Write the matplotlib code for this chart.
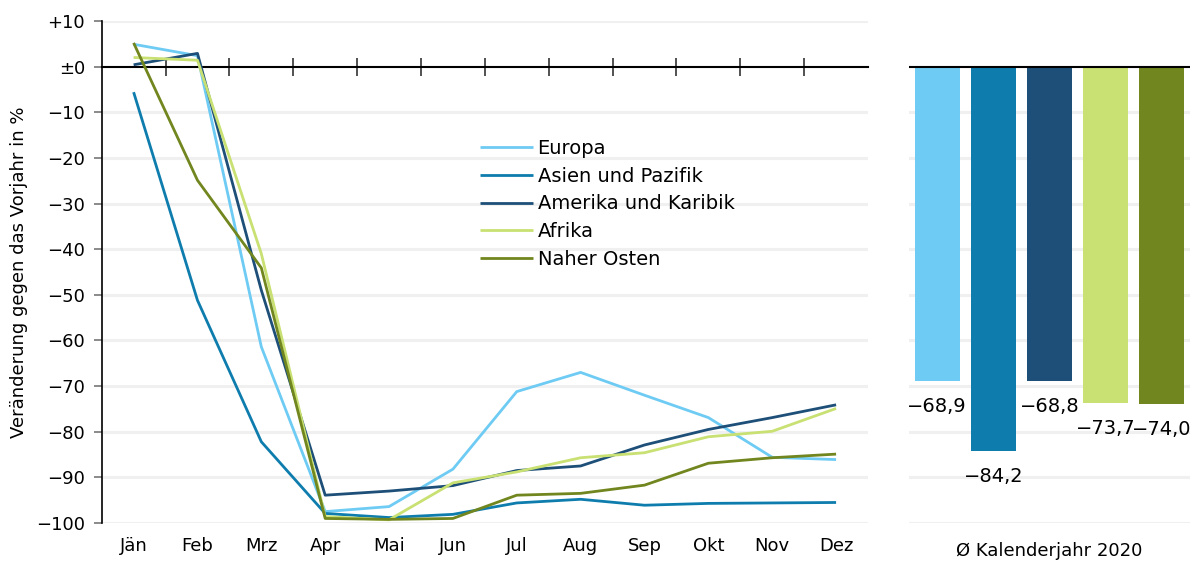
import matplotlib
matplotlib.use('Agg')
import matplotlib.pyplot as plt

plt.rcParams['font.family'] = ['DejaVu Sans']

# Monatswerte 2020, Veränderung gegen Vorjahr in %
monate = ['Jän', 'Feb', 'Mrz', 'Apr', 'Mai', 'Jun', 'Jul', 'Aug', 'Sep', 'Okt', 'Nov', 'Dez']
europa = [4.9, 2.4, -61.4, -97.5, -96.4, -88.2, -71.2, -67.0, -72.0, -76.9, -85.6, -86.1]
asien = [-5.6, -51.2, -82.2, -97.9, -98.8, -98.1, -95.6, -94.8, -96.1, -95.7, -95.6, -95.5]
amerika = [0.4, 2.9, -49.0, -93.9, -93.0, -91.8, -88.5, -87.5, -82.9, -79.5, -76.9, -74.1]
afrika = [2.0, 1.4, -41.0, -98.6, -99.3, -91.2, -88.8, -85.7, -84.6, -81.1, -79.9, -74.9]
naher_osten = [5.2, -24.9, -44.1, -99.0, -99.2, -99.0, -93.9, -93.5, -91.7, -86.9, -85.7, -84.9]

regionen = ['Europa', 'Asien und Pazifik', 'Amerika und Karibik', 'Afrika', 'Naher Osten']
farben = ['#6ECBF3', '#0E7DAD', '#1D4F78', '#C9E072', '#71861E']
jahr_2020 = [-68.9, -84.2, -68.8, -73.7, -74.0]

yticks = [10, 0, -10, -20, -30, -40, -50, -60, -70, -80, -90, -100]
ytick_labels = ['+10', '±0', '−10', '−20', '−30', '−40', '−50', '−60', '−70', '−80', '−90', '−100']

fig = plt.figure(figsize=(11.92, 5.61), dpi=100)
ax = fig.add_axes([0.0853, 0.0677, 0.6429, 0.8949])
ax2 = fig.add_axes([0.7626, 0.0677, 0.2357, 0.8949])

grid_col = '#F0F0F0'
fs = 13

# Linien
x = list(range(len(monate)))
for werte, name, col in zip([europa, asien, amerika, afrika, naher_osten], regionen, farben):
    ax.plot(x, werte, color=col, lw=2, label=name, zorder=3, solid_capstyle='butt')

ax.set_xlim(-0.5, 11.5)
ax.set_ylim(-100, 10)
ax.set_yticks(yticks, ytick_labels, fontsize=fs)
for y in yticks:
    if y != 0:
        ax.axhline(y, color=grid_col, lw=2.2, zorder=0)

for s in ['top', 'right']:
    ax.spines[s].set_visible(False)
ax.spines['bottom'].set_position(('data', 0))
ax.spines['bottom'].set_color('black')
ax.spines['bottom'].set_linewidth(1.5)
ax.spines['left'].set_linewidth(1.2)
ax.set_xticks([i + 0.5 for i in range(11)], [''] * 11)
ax.tick_params(axis='x', direction='inout', length=13, width=1.2, color='#333333')
ax.tick_params(axis='y', direction='out', length=6, width=1.2, color='#777777', pad=6)

secax = ax.secondary_xaxis('bottom')
secax.set_xticks(x, monate, fontsize=fs)
secax.tick_params(length=0, pad=10)
secax.spines['bottom'].set_visible(False)

ax.set_ylabel('Veränderung gegen das Vorjahr in %', fontsize=fs, labelpad=6)

leg = ax.legend(loc='upper left', bbox_to_anchor=(0.494, 0.765), frameon=False,
                fontsize=14, handlelength=2.7, handletextpad=0.25, labelspacing=0.45,
                borderaxespad=0, borderpad=0)

# Balken Kalenderjahr
bx = list(range(len(jahr_2020)))
ax2.bar(bx, jahr_2020, width=0.8, color=farben, zorder=3)
ax2.set_xlim(-0.5, 4.5)
ax2.set_ylim(-100, 10)
for y in yticks:
    if y < 0:
        ax2.axhline(y, color=grid_col, lw=2.2, zorder=0)
ax2.axhline(0, color='black', lw=1.5, zorder=4)
for s in ['top', 'right', 'left', 'bottom']:
    ax2.spines[s].set_visible(False)
ax2.set_yticks([])
ax2.set_xticks([])
for xi, v in zip(bx, jahr_2020):
    ax2.text(xi, v - 3.5, ('−%.1f' % abs(v)).replace('.', ','), ha='center', va='top',
             fontsize=14, zorder=5)
ax2.set_xlabel('Ø Kalenderjahr 2020', fontsize=fs, labelpad=14)

fig.savefig('out.png', dpi=100)
